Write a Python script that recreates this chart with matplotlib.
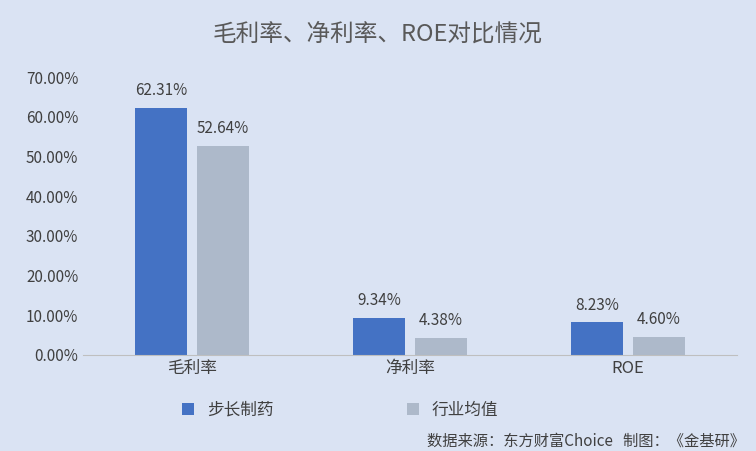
import matplotlib
matplotlib.use("Agg")
import matplotlib.pyplot as plt
import numpy as np

plt.rcParams['font.family'] = ['Noto Sans CJK SC', 'DejaVu Sans']

categories = ['毛利率', '净利率', 'ROE']
series_names = ['步长制药', '行业均值']
company = [62.31, 9.34, 8.23]
industry = [52.64, 4.38, 4.60]
yticks = [0, 10, 20, 30, 40, 50, 60, 70]

bg = '#dae3f3'
fig = plt.figure(figsize=(7.56, 4.51), dpi=100, facecolor=bg)
ax = fig.add_axes([0.11, 0.213, 0.865, 0.616], facecolor=bg)

x = np.arange(len(categories))
w = 0.24
b1 = ax.bar(x - w/2 - 0.022, company, w, color='#4472c4', label=series_names[0])
b2 = ax.bar(x + w/2 + 0.022, industry, w, color='#adb9ca', label=series_names[1])
for bars, vals in ((b1, company), (b2, industry)):
    for r, v in zip(bars, vals):
        ax.text(r.get_x() + r.get_width()/2, v + 2.2, f'{v:.2f}%', ha='center', va='bottom',
                fontsize=11, color='#404040')

ax.set_ylim(0, 70)
ax.set_xlim(-0.5, 2.5)
ax.set_yticks(yticks)
ax.set_yticklabels([f'{v:.2f}%' for v in yticks], fontsize=11, color='#404040')
ax.set_xticks(x)
ax.set_xticklabels(categories, fontsize=12, color='#404040')
ax.tick_params(length=0)
for s in ['top', 'right', 'left']:
    ax.spines[s].set_visible(False)
ax.spines['bottom'].set_color('#bfbfbf')

fig.text(0.5, 0.925, '毛利率、净利率、ROE对比情况', ha='center', va='center', fontsize=17, color='#595959')
fig.legend(handles=[b1, b2], labels=series_names, loc='center', bbox_to_anchor=(0.45, 0.09),
           ncol=2, frameon=False, fontsize=12, handlelength=0.7, handleheight=0.7,
           columnspacing=8, labelcolor='#404040')
fig.text(0.985, 0.022, '数据来源：东方财富Choice   制图：《金基研》', ha='right', va='center',
         fontsize=11, color='#404040')
fig.savefig('out.png', dpi=100, facecolor=bg)
